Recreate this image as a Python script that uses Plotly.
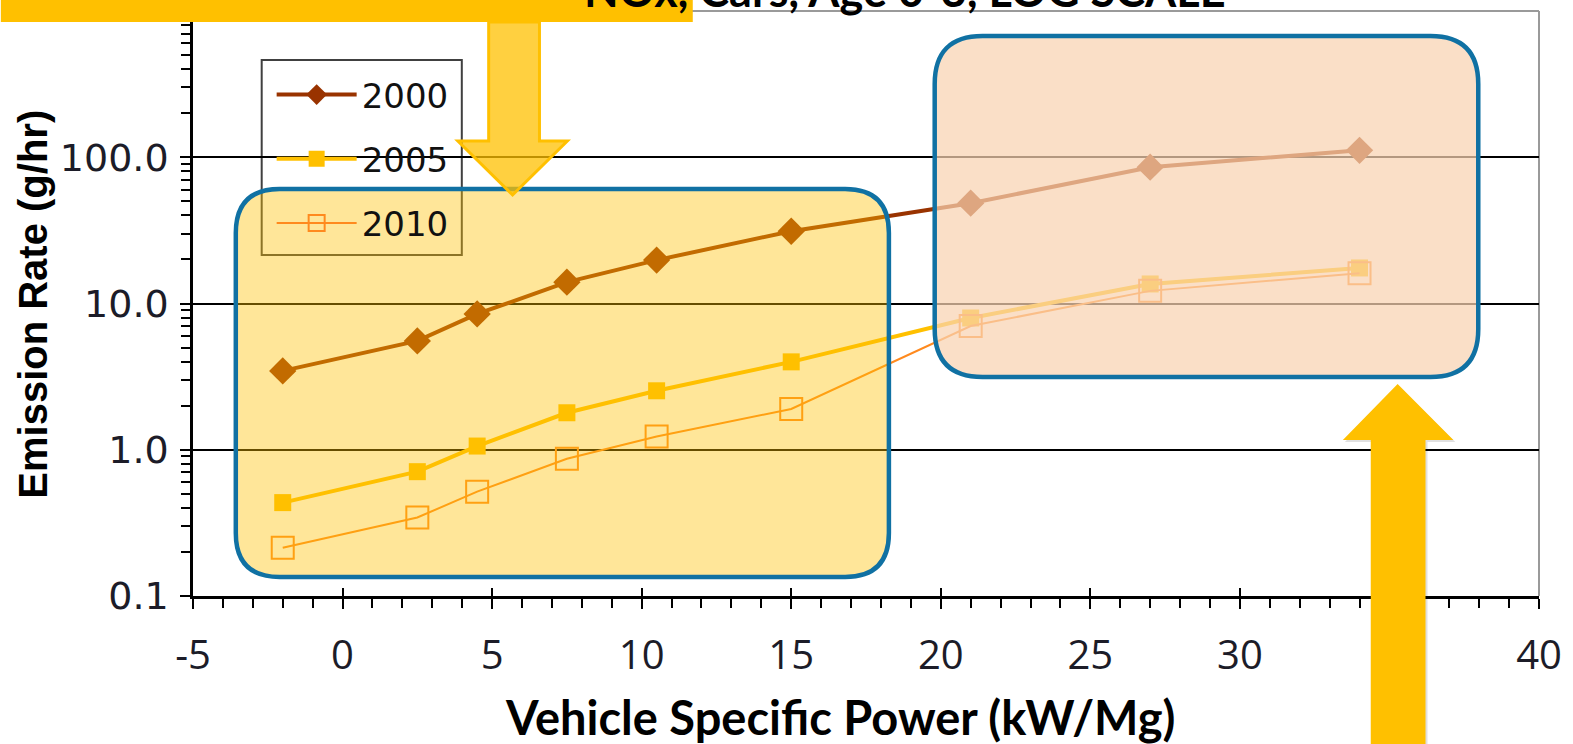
import plotly.graph_objects as go

# Vehicle specific power bins (kW/Mg)
vsp = [-2, 2.5, 4.5, 7.5, 10.5, 15, 21, 27, 34]

# NOx emission rates (g/hr) by model year
nox_2000 = [3.46, 5.55, 8.48, 14.0, 19.8, 31.2, 48.5, 85.5, 111.6]
nox_2005 = [0.435, 0.708, 1.06, 1.79, 2.53, 3.99, 7.96, 13.6, 17.5]
nox_2010 = [0.214, 0.344, 0.517, 0.868, 1.23, 1.90, 7.02, 12.2, 16.1]

y_tickvals = [0.1, 1, 10, 100, 1000]
y_ticktext = ["0.1", "1.0", "10.0", "100.0", "1,000.0"]
x_tickvals = [-5, 0, 5, 10, 15, 20, 25, 30, 35, 40]
x_ticktext = ["-5", "0", "5", "10", "15", "20", "25", "30", "", "40"]

W, H = 1573, 744
L, R, T, B = 193, 1545, 11, 596  # plot area in pixels


def px(x):
    return (x - L) / (R - L)


def py(y):
    return (B - y) / (B - T)


def path(points):
    return "M " + " L ".join(f"{px(x):.5f},{py(y):.5f}" for x, y in points) + " Z"


def rounded_rect(x0, y0, x1, y1, r):
    p = lambda x, y: f"{px(x):.5f},{py(y):.5f}"
    return (f"M {p(x0 + r, y0)} L {p(x1 - r, y0)} Q {p(x1, y0)} {p(x1, y0 + r)} "
            f"L {p(x1, y1 - r)} Q {p(x1, y1)} {p(x1 - r, y1)} "
            f"L {p(x0 + r, y1)} Q {p(x0, y1)} {p(x0, y1 - r)} "
            f"L {p(x0, y0 + r)} Q {p(x0, y0)} {p(x0 + r, y0)} Z")


fig = go.Figure()

fig.add_trace(go.Scatter(
    x=vsp, y=nox_2000, name="2000", mode="lines+markers", legendgroup="a",
    line=dict(color="#993300", width=4),
    marker=dict(symbol="diamond", size=21, color="#993300"),
))
fig.add_trace(go.Scatter(
    x=vsp, y=nox_2005, name="2005", mode="lines+markers", legendgroup="b",
    line=dict(color="#FFC000", width=4),
    marker=dict(symbol="square", size=17, color="#FFC000"),
))
fig.add_trace(go.Scatter(
    x=vsp, y=nox_2010, name="2010", mode="lines+markers", legendgroup="c",
    line=dict(color="#FF8A1E", width=2),
    marker=dict(symbol="square-open", size=22, color="#FF8A1E", line=dict(width=2)),
))
# helper trace for the inner halves of the crossing major ticks
fig.add_trace(go.Scatter(x=[None], y=[None], xaxis="x2", yaxis="y2",
                         showlegend=False, hoverinfo="skip"))

tick_font_y = dict(family="DejaVu Sans", size=38, color="#1c1c28")
tick_font_x = dict(family="Open Sans", size=40, color="#1c1c28")

fig.update_layout(
    width=W, height=H,
    margin=dict(l=L, r=W - R, t=T, b=H - B, pad=0),
    paper_bgcolor="white", plot_bgcolor="white",
    showlegend=True,
    legend=dict(
        x=px(272), y=py(66), xanchor="left", yanchor="top",
        bgcolor="rgba(0,0,0,0)", borderwidth=0,
        font=dict(family="DejaVu Sans", size=34, color="#111111"),
        tracegroupgap=17, itemwidth=80,
    ),
    xaxis=dict(
        range=[-5, 40], tickvals=x_tickvals, ticktext=x_ticktext,
        ticks="outside", ticklen=10, tickwidth=2, tickcolor="black",
        showline=True, linecolor="black", linewidth=2.5,
        showgrid=False, zeroline=False, tickfont=tick_font_x,
        minor=dict(dtick=1, ticks="outside", ticklen=9, tickwidth=2,
                   tickcolor="black", showgrid=False),
        ticklabelstandoff=12,
    ),
    xaxis2=dict(
        range=[-5, 40], overlaying="x", anchor="y", dtick=5, tick0=0,
        ticks="inside", ticklen=8, tickwidth=2, tickcolor="black",
        showticklabels=False, showgrid=False, zeroline=False, showline=False,
    ),
    yaxis=dict(
        type="log", range=[-1, 3], tickvals=y_tickvals, ticktext=y_ticktext,
        ticks="outside", ticklen=10, tickwidth=2, tickcolor="black",
        showline=True, linecolor="black", linewidth=2.5,
        showgrid=True, gridcolor="black", gridwidth=1.5, zeroline=False,
        tickfont=tick_font_y,
        minor=dict(dtick="D1", ticks="outside", ticklen=9, tickwidth=2,
                   tickcolor="black", showgrid=False),
        ticklabelstandoff=4,
    ),
    yaxis2=dict(
        type="log", range=[-1, 3], overlaying="y", anchor="x",
        tickvals=y_tickvals, ticks="inside", ticklen=8, tickwidth=2,
        tickcolor="black", showticklabels=False, showgrid=False,
        zeroline=False, showline=False,
    ),
)

shapes = [
    # plot area frame (top and right)
    dict(type="line", xref="paper", yref="paper", x0=0, x1=1, y0=1, y1=1,
         line=dict(color="#9a9a9a", width=2), layer="between"),
    dict(type="line", xref="paper", yref="paper", x0=1, x1=1, y0=0, y1=1,
         line=dict(color="#9a9a9a", width=2), layer="between"),
    # legend box
    dict(type="rect", xref="paper", yref="paper",
         x0=px(262), x1=px(463), y0=py(255), y1=py(60),
         fillcolor="white", line=dict(color="#404040", width=2), layer="between"),
    # highlighted low-power region
    dict(type="path", xref="paper", yref="paper",
         path=rounded_rect(236, 189, 892, 577, 44),
         fillcolor="rgba(255,192,0,0.40)", line=dict(color="#1071A3", width=4.5),
         layer="above"),
    # highlighted high-power region
    dict(type="path", xref="paper", yref="paper",
         path=rounded_rect(938, 36, 1484, 377, 48),
         fillcolor="rgba(248,210,178,0.72)", line=dict(color="#1071A3", width=4.5),
         layer="above"),
    # banner behind the title
    dict(type="rect", xref="paper", yref="paper",
         x0=px(0), x1=px(695), y0=py(22), y1=py(-30),
         fillcolor="#FFC000", line=dict(width=0), layer="above"),
    # downward arrow
    dict(type="path", xref="paper", yref="paper",
         path=path([(490, 22), (541, 22), (541, 141), (569, 141),
                    (514, 195), (459, 141), (490, 141)]),
         fillcolor="rgba(255,192,0,0.75)", line=dict(color="#FFC000", width=3),
         layer="above"),
    # upward arrow shadow
    dict(type="path", xref="paper", yref="paper",
         path=path([(1378, 760), (1433, 760), (1433, 442), (1461, 442),
                    (1405, 387), (1350, 442), (1378, 442)]),
         fillcolor="rgba(0,0,0,0.12)", line=dict(width=0), layer="above"),
    # upward arrow
    dict(type="path", xref="paper", yref="paper",
         path=path([(1376, 760), (1431, 760), (1431, 440), (1459, 440),
                    (1403, 384), (1348, 440), (1376, 440)]),
         fillcolor="#FFC000", line=dict(width=0), layer="above"),
]
fig.update_layout(shapes=shapes)

annotations = [
    dict(text="<b>NOx, Cars, Age 0-3, LOG SCALE</b>", xref="paper", yref="paper",
         x=px(908), y=1, yanchor="middle", xanchor="center", yshift=21,
         showarrow=False, font=dict(family="Lato", size=45, color="black")),
    dict(text="<b>Vehicle Specific Power (kW/Mg)</b>", xref="paper", yref="paper",
         x=px(843), y=py(717), xanchor="center", yanchor="middle",
         showarrow=False, font=dict(family="Lato", size=47, color="black")),
    dict(text="<b>Emission Rate (g/hr)</b>", xref="paper", yref="paper",
         x=px(32), y=py(304), xanchor="center", yanchor="middle", textangle=-90,
         showarrow=False, font=dict(family="Liberation Sans", size=40, color="black")),
]
fig.update_layout(annotations=annotations)

fig.write_html("out.html")
